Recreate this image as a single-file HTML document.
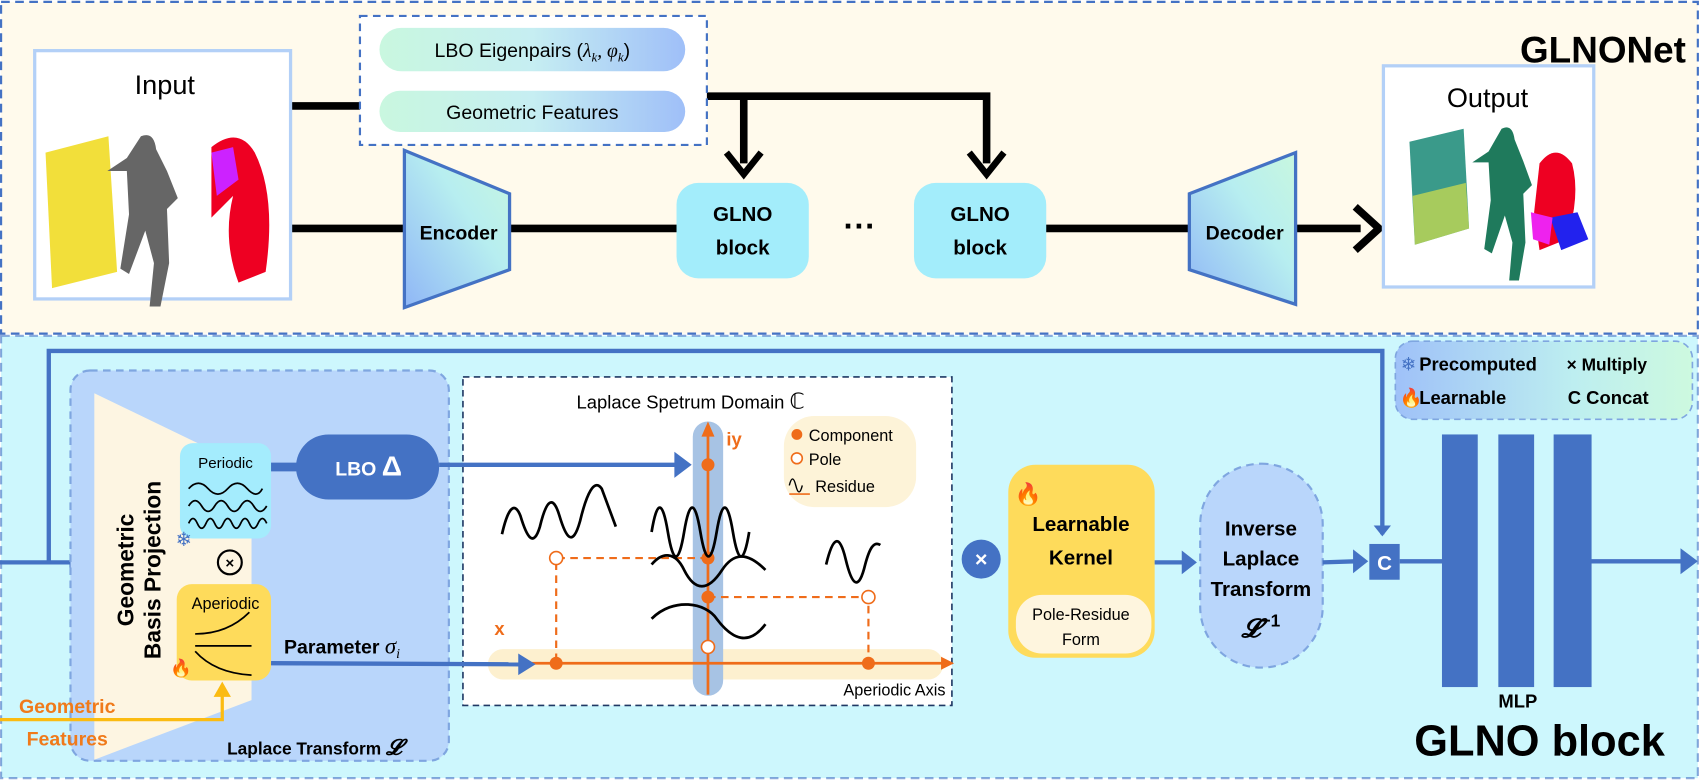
<!DOCTYPE html>
<html><head><meta charset="utf-8"><style>
html,body{margin:0;padding:0;background:#fff;}
svg{display:block;}
text{font-family:"Liberation Sans",sans-serif;}
</style></head><body>
<svg width="1700" height="780" viewBox="0 0 1568 718" xmlns="http://www.w3.org/2000/svg">
<defs>
<linearGradient id="pill" x1="0" x2="1"><stop offset="0" stop-color="#c9f7df"/><stop offset="0.5" stop-color="#c6eef2"/><stop offset="1" stop-color="#9fbff8"/></linearGradient>
<linearGradient id="enc" x1="0" y1="1" x2="1" y2="0"><stop offset="0" stop-color="#8fb6f6"/><stop offset="0.6" stop-color="#b7eef0"/><stop offset="1" stop-color="#c8f7df"/></linearGradient>
<linearGradient id="leg" x1="0" x2="1"><stop offset="0" stop-color="#9fc1f8"/><stop offset="0.6" stop-color="#bdeef0"/><stop offset="1" stop-color="#cdf9df"/></linearGradient>
<marker id="ab" markerWidth="4" markerHeight="4" refX="2" refY="2" orient="auto" markerUnits="strokeWidth"><path d="M0,0 L2.5,2 L0,4 Z" fill="#4472c4"/></marker>
</defs>
<rect x="1" y="1" width="1565" height="306" fill="#fffaec" stroke="#4472c4" stroke-width="2" stroke-dasharray="8,5"/>
<text x="1555" y="57" text-anchor="end" font-size="34" font-weight="bold">GLNONet</text>
<g stroke="#000" stroke-width="7" fill="none">
<line x1="268" y1="97" x2="332" y2="97"/>
<polyline points="640,88 910,88 910,150"/>
<line x1="686" y1="88" x2="686" y2="150"/>
<line x1="268" y1="210" x2="375" y2="210"/>
<line x1="468" y1="210" x2="626" y2="210"/>
<line x1="964" y1="210" x2="1099" y2="210"/>
<line x1="1193" y1="210" x2="1255" y2="210"/>
<polyline points="670,140 686,160 702,140" stroke-width="6"/>
<polyline points="894,140 910,160 926,140" stroke-width="6"/>
<polyline points="1250,190 1272,210 1250,230" stroke-width="7"/>
</g>
<rect x="32" y="46" width="236" height="229" fill="#fff" stroke="#b3d0f7" stroke-width="3"/>
<text x="152" y="86" text-anchor="middle" font-size="25">Input</text>
<g>
<path d="M42,140 L100,125 L108,250 L48,265 Z" fill="#f2df3a"/>
<path d="M130,125 q12,-5 14,12 l10,20 l10,25 l-10,10 l2,50 l-8,40 l-10,0 l4,-40 l-8,-30 l-15,40 l-8,-5 l8,-50 l-2,-40 l-18,0 l18,-12 Z" fill="#666"/>
<path d="M195,135 q25,-20 40,5 q20,40 10,110 l-25,10 q-15,-40 -5,-80 l-20,20 Z" fill="#e02"/>
<path d="M195,140 l20,-5 l5,30 l-20,15 Z" fill="#c2f"/>
</g>
<rect x="332" y="14" width="320" height="119" fill="#fff" stroke="#4472c4" stroke-width="2" stroke-dasharray="7,5"/>
<rect x="350" y="25" width="282" height="40" rx="20" fill="url(#pill)"/>
<text x="491" y="52" text-anchor="middle" font-size="18">LBO Eigenpairs (<tspan font-family="Liberation Serif" font-style="italic">λ<tspan font-size="12" dy="4">k</tspan><tspan dy="-4">, φ</tspan><tspan font-size="12" dy="4">k</tspan></tspan><tspan dy="-4">)</tspan></text>
<rect x="350" y="83" width="282" height="38" rx="19" fill="url(#pill)"/>
<text x="491" y="109" text-anchor="middle" font-size="18">Geometric Features</text>
<path d="M373,138 L470,178 L470,248 L373,283 Z" fill="url(#enc)" stroke="#4472c4" stroke-width="3"/>
<text x="423" y="220" text-anchor="middle" font-size="18" font-weight="bold">Encoder</text>
<path d="M1097,178 L1195,140 L1195,280 L1097,248 Z" fill="url(#enc)" stroke="#4472c4" stroke-width="3"/>
<text x="1148" y="220" text-anchor="middle" font-size="18" font-weight="bold">Decoder</text>
<rect x="624" y="168" width="122" height="88" rx="20" fill="#a3edfb"/>
<text x="685" y="203" text-anchor="middle" font-size="19" font-weight="bold">GLNO</text>
<text x="685" y="234" text-anchor="middle" font-size="19" font-weight="bold">block</text>
<rect x="843" y="168" width="122" height="88" rx="20" fill="#a3edfb"/>
<text x="904" y="203" text-anchor="middle" font-size="19" font-weight="bold">GLNO</text>
<text x="904" y="234" text-anchor="middle" font-size="19" font-weight="bold">block</text>
<text x="793" y="218" text-anchor="middle" font-size="30" font-weight="bold">···</text>
<rect x="1276" y="60" width="194" height="204" fill="#fff" stroke="#b3d0f7" stroke-width="3"/>
<text x="1372" y="98" text-anchor="middle" font-size="25">Output</text>
<path d="M1300,130 L1350,118 L1355,210 L1305,225 Z" fill="#3a9a8a"/>
<path d="M1303,180 L1352,168 L1355,210 L1305,225 Z" fill="#d6e04a" opacity="0.7"/>
<path d="M1385,118 q10,-5 12,10 l8,20 l8,22 l-8,8 l2,45 l-6,35 l-9,0 l3,-35 l-7,-25 l-12,35 l-7,-4 l6,-45 l-2,-35 l-15,0 l15,-10 Z" fill="#1f7a5c"/>
<path d="M1420,150 q15,-20 30,0 q8,30 -5,70 l-25,10 l-5,-35 Z" fill="#e02"/>
<path d="M1430,200 l25,-5 l10,25 l-25,10 Z" fill="#22e"/>
<path d="M1412,195 l20,5 l-3,25 l-15,-5 Z" fill="#e2e"/>
<!-- bottom panel -->
<rect x="1" y="309" width="1565" height="408" fill="#cdf7fd" stroke="#4472c4" stroke-width="2" stroke-dasharray="8,5" stroke-opacity="0.6"/>
<polyline points="45,518 45,323 1275,323 1275,492" fill="none" stroke="#4472c4" stroke-width="4" marker-end="url(#ab)"/>
<line x1="0" y1="518" x2="72" y2="518" stroke="#4472c4" stroke-width="4" marker-end="url(#ab)"/>
<rect x="65" y="341" width="349" height="360" rx="18" fill="#b9d6fb" stroke="#7fa6e0" stroke-width="2" stroke-dasharray="7,5"/>
<path d="M87,362 L232,432 L232,645 L87,700 Z" fill="#fdf5e2"/>
<text transform="translate(123,525) rotate(-90)" text-anchor="middle" font-size="21" font-weight="bold">Geometric</text>
<text transform="translate(148,525) rotate(-90)" text-anchor="middle" font-size="21" font-weight="bold">Basis Projection</text>
<line x1="248" y1="430" x2="278" y2="430" stroke="#4472c4" stroke-width="8"/>
<rect x="166" y="408" width="84" height="88" rx="12" fill="#a4ecfd"/>
<text x="208" y="431" text-anchor="middle" font-size="14">Periodic</text>
<g fill="none" stroke="#000" stroke-width="1.6">
<path d="M174,450 q9,-10 18,0 t18,0 t18,0 t14,0"/>
<path d="M174,466 q6,-10 12,0 t12,0 t12,0 t12,0 t12,0 t12,0"/>
<path d="M174,482 q4,-9 8,0 t8,0 t8,0 t8,0 t8,0 t8,0 t8,0 t8,0 t8,0"/>
</g>
<text x="162" y="503" font-size="18" fill="#4472c4">❄</text>
<circle cx="212" cy="518" r="11" fill="none" stroke="#000" stroke-width="2"/>
<text x="212" y="523" text-anchor="middle" font-size="14" font-weight="bold">×</text>
<rect x="163" y="538" width="87" height="89" rx="14" fill="#fedb5b"/>
<text x="208" y="561" text-anchor="middle" font-size="15">Aperiodic</text>
<g fill="none" stroke="#000" stroke-width="1.6">
<path d="M180,584 q30,0 50,-20"/><line x1="180" y1="595" x2="232" y2="595"/><path d="M180,600 q18,20 52,22"/>
</g>
<text x="157" y="621" font-size="16" fill="#f06a2a">🔥</text>
<rect x="273" y="400" width="132" height="60" rx="30" fill="#4472c4"/>
<text x="340" y="438" text-anchor="middle" font-size="18" fill="#fff" font-weight="bold">LBO <tspan font-size="26">Δ</tspan></text>
<text x="262" y="602" font-size="18" font-weight="bold">Parameter <tspan font-family="Liberation Serif" font-style="italic" font-weight="normal" font-size="21">σ<tspan font-size="13" dy="4">i</tspan></tspan></text>
<polyline points="0,663 205,663 205,640" fill="none" stroke="#fbbb11" stroke-width="3"/>
<path d="M197,642 L205,628 L213,642 Z" fill="#fbbb11"/>
<text x="62" y="657" text-anchor="middle" font-size="18" font-weight="bold" fill="#f07a1a">Geometric</text>
<text x="62" y="687" text-anchor="middle" font-size="18" font-weight="bold" fill="#f07a1a">Features</text>
<text x="290" y="695" text-anchor="middle" font-size="16" font-weight="bold">Laplace Transform <tspan font-family="Liberation Serif" font-style="italic" font-size="20">𝓛</tspan></text>
<!-- spectrum -->
<rect x="427" y="347" width="451" height="303" fill="#fff" stroke="#1f3864" stroke-width="1.5" stroke-dasharray="6,4"/>
<text x="637" y="376" text-anchor="middle" font-size="17">Laplace Spetrum Domain <tspan font-family="DejaVu Sans" font-size="20">ℂ</tspan></text>
<rect x="450" y="598" width="420" height="28" rx="14" fill="#fdf0cf"/>
<rect x="639" y="388" width="28" height="253" rx="14" fill="#a7c3e4"/>
<rect x="723" y="383" width="122" height="84" rx="28" fill="#fdf3d8"/>
<g stroke="#ef6c1a" fill="none" stroke-width="2.5">
<line x1="653" y1="640" x2="653" y2="400"/>
<line x1="490" y1="611" x2="870" y2="611"/>
</g>
<path d="M647,402 L653,388 L659,402 Z" fill="#ef6c1a"/>
<path d="M868,605 L880,611 L868,617 Z" fill="#ef6c1a"/>
<g stroke="#ef6c1a" stroke-width="2" stroke-dasharray="7,5" fill="none">
<polyline points="653,514 513,514 513,611"/>
<polyline points="653,550 801,550 801,611"/>
</g>
<!-- blue arrows over spectrum box -->
<line x1="405" y1="428" x2="625" y2="428" stroke="#4472c4" stroke-width="4"/>
<path d="M622,416 L638,428 L622,440 Z" fill="#4472c4"/>
<line x1="250" y1="611" x2="480" y2="612" stroke="#4472c4" stroke-width="4"/>
<path d="M478,602 L494,612 L478,622 Z" fill="#4472c4"/>
<g fill="#ef6c1a">
<circle cx="653" cy="428" r="6"/><circle cx="653" cy="514" r="6"/><circle cx="653" cy="550" r="6"/><circle cx="513" cy="611" r="6"/><circle cx="801" cy="611" r="6"/>
</g>
<g fill="#fff" stroke="#ef6c1a" stroke-width="1.5">
<circle cx="513" cy="514" r="6"/><circle cx="653" cy="596" r="6"/><circle cx="801" cy="550" r="6"/>
</g>
<text x="670" y="410" font-size="17" font-weight="bold" fill="#ef6c1a">iy</text>
<text x="456" y="585" font-size="17" font-weight="bold" fill="#ef6c1a">x</text>
<text x="825" y="641" text-anchor="middle" font-size="15">Aperiodic Axis</text>
<circle cx="735" cy="400" r="5" fill="#ef6c1a"/><text x="746" y="406" font-size="15">Component</text>
<circle cx="735" cy="422" r="5" fill="#fff" stroke="#ef6c1a" stroke-width="1.5"/><text x="746" y="428" font-size="15">Pole</text>
<path d="M728,447 q3,-12 6,0 t6,0" fill="none" stroke="#000" stroke-width="1.3"/><line x1="728" y1="455" x2="747" y2="455" stroke="#ef6c1a" stroke-width="1.5"/>
<text x="752" y="453" font-size="15">Residue</text>
<g fill="none" stroke="#000" stroke-width="2.5">
<path d="M463,492 C468,470 474,460 480,475 C486,495 492,505 498,485 C504,460 510,455 516,475 C522,495 528,505 535,480 C541,455 548,440 555,450 L568,485"/>
<path d="M601,490 c5,-30 10,-30 15,0 c5,30 10,30 15,0 c5,-30 10,-30 15,0 c5,30 10,30 15,0 c5,-30 10,-30 15,0 c5,30 10,30 15,0"/>
<path d="M601,520 c10,-12 22,-12 30,5 c10,20 22,20 35,0 c10,-15 22,-18 40,0"/>
<path d="M601,570 c20,-20 50,-15 60,0 c15,20 30,25 45,5"/>
<path d="M762,520 c6,-25 12,-30 18,-5 c6,25 12,30 18,5 c4,-15 8,-22 14,-18"/>
</g>
<circle cx="905" cy="515" r="18" fill="#4472c4"/>
<text x="905" y="522" text-anchor="middle" font-size="20" fill="#fff" font-weight="bold">×</text>
<rect x="930" y="428" width="135" height="178" rx="25" fill="#fedb5b"/>
<text x="936" y="462" font-size="20" fill="#f06a2a">🔥</text>
<rect x="937" y="548" width="125" height="54" rx="24" fill="#fef5de"/>
<text x="997" y="489" text-anchor="middle" font-size="19" font-weight="bold">Learnable</text>
<text x="997" y="520" text-anchor="middle" font-size="19" font-weight="bold">Kernel</text>
<text x="997" y="571" text-anchor="middle" font-size="15">Pole-Residue</text>
<text x="997" y="594" text-anchor="middle" font-size="15">Form</text>
<line x1="1065" y1="518" x2="1092" y2="518" stroke="#4472c4" stroke-width="4"/>
<path d="M1090,507 L1104,518 L1090,529 Z" fill="#4472c4"/>
<rect x="1107" y="427" width="113" height="188" rx="56" fill="#b9d6fb" stroke="#7fa6e0" stroke-width="2" stroke-dasharray="7,5"/>
<text x="1163" y="493" text-anchor="middle" font-size="19" font-weight="bold">Inverse</text>
<text x="1163" y="521" text-anchor="middle" font-size="19" font-weight="bold">Laplace</text>
<text x="1163" y="549" text-anchor="middle" font-size="19" font-weight="bold">Transform</text>
<text x="1163" y="587" text-anchor="middle" font-size="24" font-weight="bold" font-family="Liberation Serif"><tspan font-style="italic">𝓛</tspan><tspan font-size="16" dy="-10">−1</tspan></text>
<line x1="1220" y1="518" x2="1250" y2="517" stroke="#4472c4" stroke-width="4"/>
<path d="M1248,506 L1262,517 L1248,528 Z" fill="#4472c4"/>
<rect x="1263" y="501" width="28" height="33" fill="#4472c4"/>
<text x="1277" y="525" text-anchor="middle" font-size="19" font-weight="bold" fill="#fff">C</text>
<line x1="1291" y1="517" x2="1335" y2="517" stroke="#4472c4" stroke-width="4"/>
<rect x="1330" y="400" width="33" height="233" fill="#4472c4"/>
<rect x="1382" y="400" width="33" height="233" fill="#4472c4"/>
<rect x="1433" y="400" width="35" height="233" fill="#4472c4"/>
<line x1="1467" y1="517" x2="1552" y2="517" stroke="#4472c4" stroke-width="4"/>
<path d="M1550,505 L1566,517 L1550,529 Z" fill="#4472c4"/>
<text x="1400" y="652" text-anchor="middle" font-size="17" font-weight="bold">MLP</text>
<text x="1420" y="696" text-anchor="middle" font-size="40" font-weight="bold">GLNO block</text>
<rect x="1287" y="314" width="274" height="72" rx="16" fill="url(#leg)" stroke="#7fa6e0" stroke-width="1.5" stroke-dasharray="6,4"/>
<text x="1292" y="341" font-size="17" fill="#4472c4">❄</text>
<text x="1309" y="341" font-size="17" font-weight="bold">Precomputed</text>
<text x="1445" y="341" font-size="16" font-weight="bold">× Multiply</text>
<text x="1291" y="372" font-size="17" fill="#f06a2a">🔥</text>
<text x="1309" y="372" font-size="17" font-weight="bold">Learnable</text>
<text x="1446" y="372" font-size="17" font-weight="bold">C  Concat</text>
</svg>
</body></html>
